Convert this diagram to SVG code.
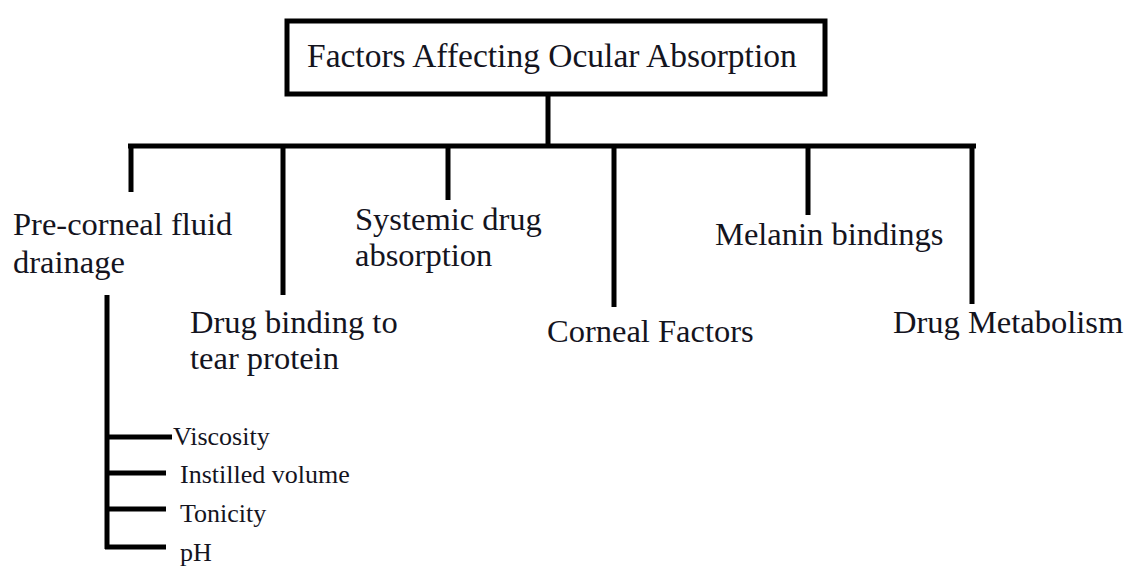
<svg xmlns="http://www.w3.org/2000/svg" width="1132" height="568" viewBox="0 0 1132 568">
<style>
text{font-family:"Liberation Serif","Times New Roman",serif;fill:#14141e}
.t{font-size:33.5px}
.m{font-size:32.5px}
.s{font-size:26px}
.ln{stroke:#000;stroke-width:5;fill:none;stroke-linecap:butt}
</style>
<rect width="1132" height="568" fill="#fff"/>
<g id="title">
<rect x="287" y="21" width="538" height="73" fill="#fff" stroke="#000" stroke-width="5"/>
<text class="t" x="307" y="67">Factors Affecting Ocular Absorption</text>
</g>
<g id="connectors">
<line class="ln" x1="548" y1="94" x2="548" y2="146"/>
<line class="ln" x1="128" y1="146" x2="976" y2="146"/>
<line class="ln" x1="131" y1="146" x2="131" y2="192"/>
<line class="ln" x1="283" y1="146" x2="283" y2="295"/>
<line class="ln" x1="448" y1="146" x2="448" y2="200"/>
<line class="ln" x1="614" y1="146" x2="614" y2="307"/>
<line class="ln" x1="808" y1="146" x2="808" y2="215"/>
<line class="ln" x1="972" y1="146" x2="972" y2="304"/>
<line class="ln" x1="107" y1="295" x2="107" y2="549"/>
<line class="ln" x1="105" y1="437" x2="172" y2="437"/>
<line class="ln" x1="105" y1="473" x2="166" y2="473"/>
<line class="ln" x1="105" y1="509" x2="166" y2="509"/>
<line class="ln" x1="105" y1="547" x2="166" y2="547"/>
</g>
<g id="precorneal">
<text class="m" x="13" y="235">Pre-corneal fluid</text>
<text class="m" x="13" y="273">drainage</text>
</g>
<g id="binding">
<text class="m" x="190" y="333">Drug binding to</text>
<text class="m" x="190" y="369">tear protein</text>
</g>
<g id="systemic">
<text class="m" x="355" y="230">Systemic drug</text>
<text class="m" x="355" y="266">absorption</text>
</g>
<g id="corneal">
<text class="m" x="547" y="342">Corneal Factors</text>
</g>
<g id="melanin">
<text class="m" x="715" y="245">Melanin bindings</text>
</g>
<g id="metabolism">
<text class="m" x="893" y="333">Drug Metabolism</text>
</g>
<g id="viscosity"><text class="s" x="173" y="445">Viscosity</text></g>
<g id="volume"><text class="s" x="180" y="483">Instilled volume</text></g>
<g id="tonicity"><text class="s" x="180" y="522">Tonicity</text></g>
<g id="ph"><text class="s" x="180" y="561">pH</text></g>
</svg>
